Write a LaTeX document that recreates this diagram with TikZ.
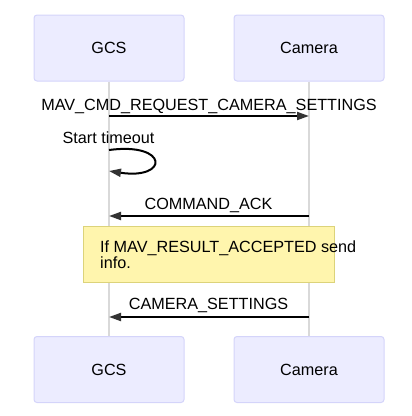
\documentclass[tikz,border=0pt]{standalone}
\usepackage{fontspec}
\setmainfont{Liberation Sans}
\usetikzlibrary{shapes, arrows.meta, positioning}
\definecolor{actorfill}{HTML}{ECECFF}
\definecolor{actorline}{HTML}{D4D4FA}
\definecolor{notefill}{HTML}{FFF5AD}
\definecolor{noteline}{HTML}{DCD37A}
\definecolor{lifegray}{HTML}{D9D9D9}
\definecolor{tipgray}{HTML}{333333}
\tikzstyle{actor} = [draw=actorline, fill=actorfill, rounded corners=3pt, line width=1pt, minimum width=150pt, minimum height=66pt, font=\fontsize{16.2}{19}\selectfont]
\tikzstyle{msg} = [draw, line width=2pt, -{Triangle[length=12pt, width=8pt, color=tipgray]}]
\tikzstyle{lbl} = [anchor=base, inner sep=0pt, font=\fontsize{16.2}{19}\selectfont]
\tikzstyle{life} = [draw=lifegray, line width=1.5pt]

\begin{document}
\begin{tikzpicture}[x=1pt, y=-1pt]
\useasboundingbox (0,0) rectangle (412,416);

%Actors
\node[actor] (gcsTop) at (109,48) {GCS};
\node[actor] (camTop) at (309,48) {Camera};
\node[actor] (gcsBot) at (109,369.5) {GCS};
\node[actor] (camBot) at (309,369.5) {Camera};

%Lifelines
\draw[life] (gcsTop.south) -- (gcsBot.north);
\draw[life] (camTop.south) -- (camBot.north);

%Message points
\coordinate (reqA) at (109,116);
\coordinate (reqB) at (309,116);
\coordinate (loopA) at (109,150);
\coordinate (loopB) at (109,171);
\coordinate (ackA) at (309,216);
\coordinate (ackB) at (109,216);
\coordinate (setA) at (309,317);
\coordinate (setB) at (109,317);

%Note
\node[draw=noteline, fill=notefill, line width=1pt, minimum width=251pt, minimum height=56pt] (note) at (208.5,254) {};
\node[anchor=north west, inner sep=0pt, align=left, font=\fontsize{16.2}{16.5}\selectfont] (noteText) at (100,240.5) {If MAV\_RESULT\_ACCEPTED send\\info.};

%Messages
\draw[msg] (reqA) -- (reqB);
\draw[msg] (loopA) .. controls (169,142) and (169,180) .. (loopB);
\draw[msg] (ackA) -- (ackB);
\draw[msg] (setA) -- (setB);

%Labels
\node[lbl] (reqText) at (209,110) {MAV\_CMD\_REQUEST\_CAMERA\_SETTINGS};
\node[lbl] (loopText) at (108.5,143) {Start timeout};
\node[lbl] (ackText) at (208.5,209) {COMMAND\_ACK};
\node[lbl] (setText) at (208.5,309) {CAMERA\_SETTINGS};

\end{tikzpicture}
\end{document}
